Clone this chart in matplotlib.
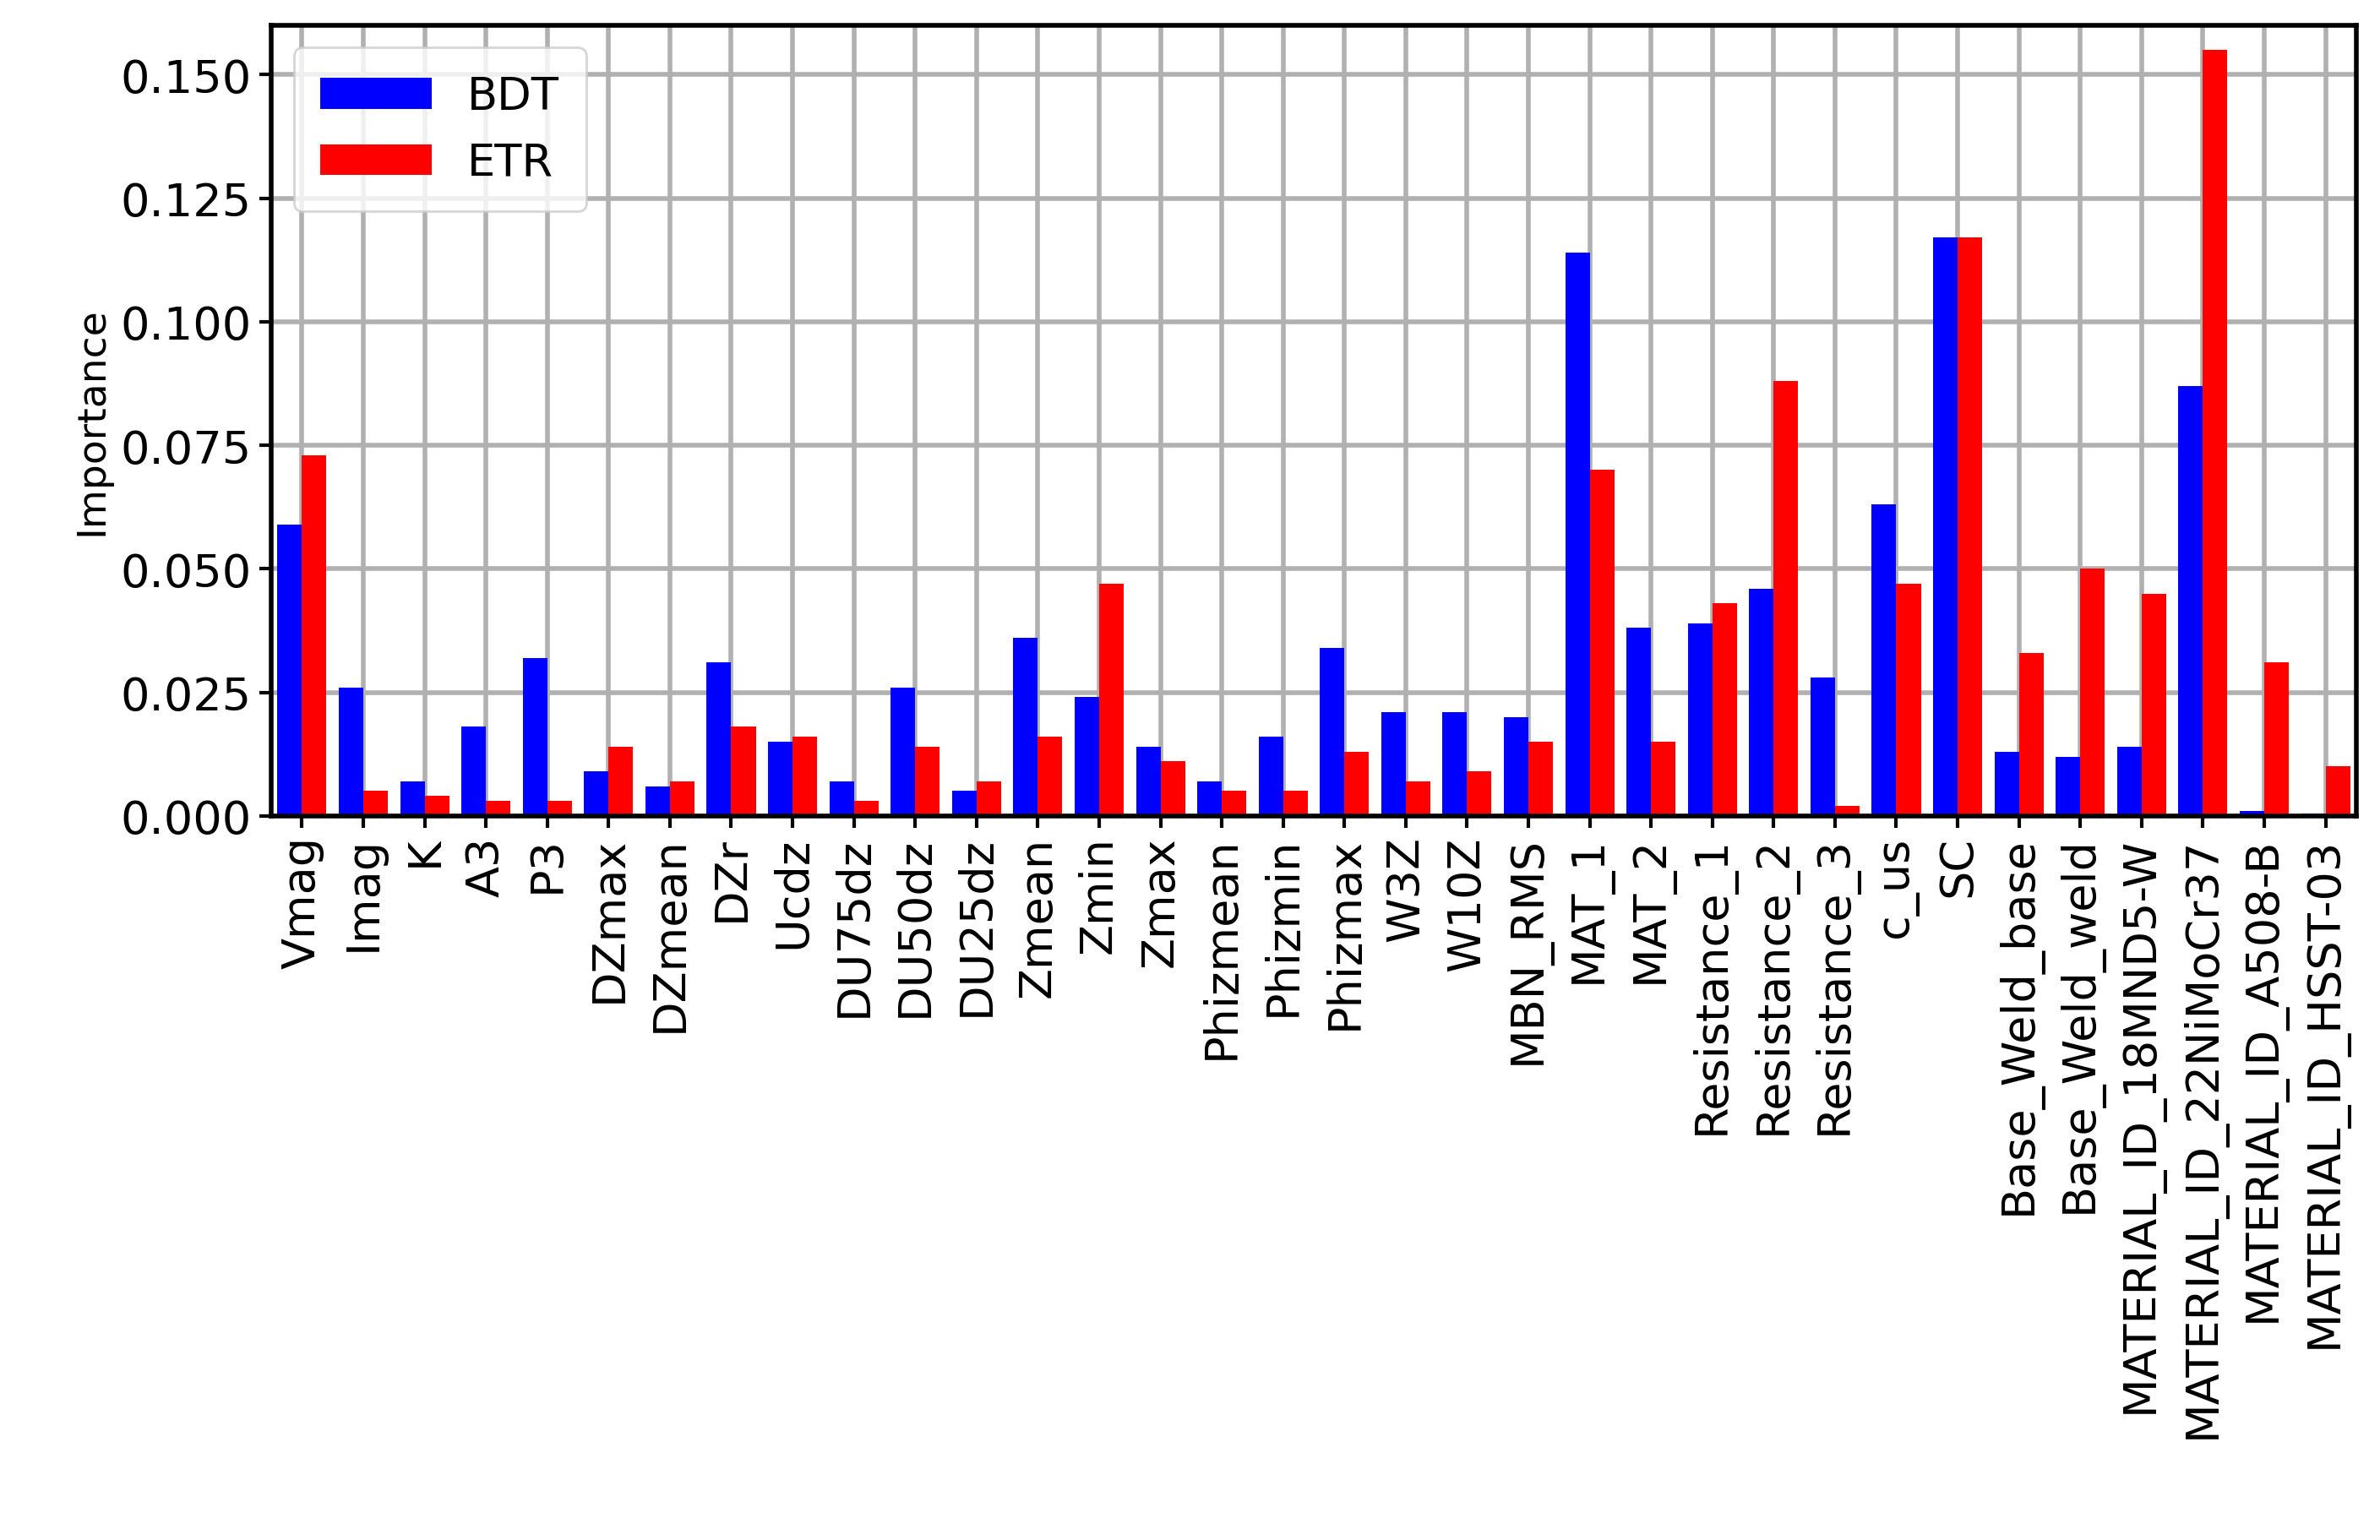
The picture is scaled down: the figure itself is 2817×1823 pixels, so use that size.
import matplotlib.pyplot as plt
import numpy as np

features = ['Vmag', 'Imag', 'K', 'A3', 'P3', 'DZmax', 'DZmean', 'DZr', 'Ucdz',
            'DU75dz', 'DU50dz', 'DU25dz', 'Zmean', 'Zmin', 'Zmax', 'Phizmean',
            'Phizmin', 'Phizmax', 'W3Z', 'W10Z', 'MBN_RMS', 'MAT_1', 'MAT_2',
            'Resistance_1', 'Resistance_2', 'Resistance_3', 'c_us', 'SC',
            'Base_Weld_base', 'Base_Weld_weld', 'MATERIAL_ID_18MND5-W',
            'MATERIAL_ID_22NiMoCr37', 'MATERIAL_ID_A508-B', 'MATERIAL_ID_HSST-03']
bdt = [0.059, 0.026, 0.007, 0.018, 0.032, 0.009, 0.006, 0.031, 0.015, 0.007,
       0.026, 0.005, 0.036, 0.024, 0.014, 0.007, 0.016, 0.034, 0.021, 0.021,
       0.020, 0.114, 0.038, 0.039, 0.046, 0.028, 0.063, 0.117, 0.013, 0.012,
       0.014, 0.087, 0.001, 0.0005]
etr = [0.073, 0.005, 0.004, 0.003, 0.003, 0.014, 0.007, 0.018, 0.016, 0.003,
       0.014, 0.007, 0.016, 0.047, 0.011, 0.005, 0.005, 0.013, 0.007, 0.009,
       0.015, 0.070, 0.015, 0.043, 0.088, 0.002, 0.047, 0.117, 0.033, 0.050,
       0.045, 0.155, 0.031, 0.010]

x = np.arange(len(features))
w = 0.4

fig = plt.figure(figsize=(14.085, 9.12), dpi=200)
ax = fig.add_axes([0.114, 0.47, 0.876, 0.513])
ax.set_axisbelow(True)
ax.grid(True, color='#b0b0b0', linewidth=2)
ax.bar(x - w / 2, bdt, w, color='blue', label='BDT')
ax.bar(x + w / 2, etr, w, color='red', label='ETR')

ax.set_xlim(-0.5, len(features) - 0.5)
ax.set_ylim(0, 0.16)
ticks = np.arange(0, 0.151, 0.025)
ax.set_yticks(ticks)
ax.set_yticklabels(['%.3f' % v for v in ticks])
ax.set_xticks(x)
ax.set_xticklabels(features, rotation=90)
ax.tick_params(labelsize=19.5, width=1.5, length=5)
ax.set_ylabel('Importance', fontsize=17)
for s in ax.spines.values():
    s.set_linewidth(2)
ax.legend(loc='upper left', fontsize=19, handlelength=2.5, borderpad=0.6)

fig.savefig('out.png')
